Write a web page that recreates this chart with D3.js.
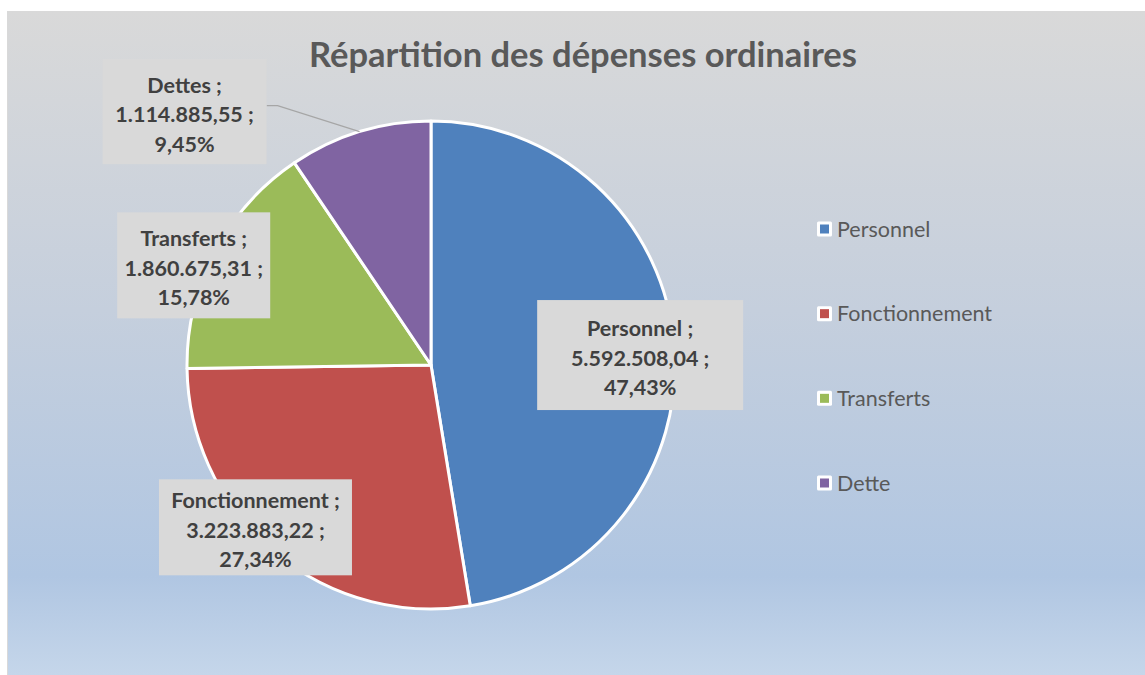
<!DOCTYPE html>
<html>
<head>
<meta charset="utf-8">
<script src="https://cdn.jsdelivr.net/npm/d3@7"></script>
<style>
  body { margin: 0; background: #fff; }
  svg text { font-family: Lato, "Open Sans", sans-serif; }
</style>
</head>
<body>
<svg id="chart" width="1145" height="675"></svg>
<script>
// data
const categories = ["Personnel", "Fonctionnement", "Transferts", "Dette"];
const labelNames = ["Personnel", "Fonctionnement", "Transferts", "Dettes"];
const values = [5592508.04, 3223883.22, 1860675.31, 1114885.55];
const valueLabels = ["5.592.508,04", "3.223.883,22", "1.860.675,31", "1.114.885,55"];
const percentLabels = ["47,43%", "27,34%", "15,78%", "9,45%"];
const colorsList = ["#4f81bd", "#c0504d", "#9bbb59", "#8064a2"];

// label box layout (radial factor, nudge, box size)
const labelLayout = [
  { r: 0.86, dx: 0, dy: 7, w: 206, h: 110 },
  { r: 0.98, dx: -22, dy: -21, w: 193, h: 96 },
  { r: 1.06, dx: -8, dy: 20, w: 153, h: 106 },
  { r: 1.0, dx: -175, dy: -20, w: 164, h: 105, leader: true }
];

const width = 1145, height = 675;
const cx = 431, cy = 365, radius = 244;

const svg = d3.select("#chart");

// background gradient
const defs = svg.append("defs");
const grad = defs.append("linearGradient")
    .attr("id", "bg").attr("x1", 0).attr("y1", 0).attr("x2", 0).attr("y2", 1);
grad.append("stop").attr("offset", "0%").attr("stop-color", "#d9d9d9");
grad.append("stop").attr("offset", "45%").attr("stop-color", "#c5cfdd");
grad.append("stop").attr("offset", "85%").attr("stop-color", "#b0c6e2");
grad.append("stop").attr("offset", "100%").attr("stop-color", "#c5d6ea");

svg.append("rect")
    .attr("x", 7.5).attr("y", 11.5)
    .attr("width", width - 7).attr("height", height - 11)
    .attr("fill", "url(#bg)")
    .attr("stroke", "#d9d9d9");

// title
svg.append("text")
    .attr("x", 583).attr("y", 67)
    .attr("text-anchor", "middle")
    .attr("font-size", 34.5)
    .attr("font-weight", "bold")
    .attr("fill", "#595959")
    .text("Répartition des dépenses ordinaires");

// pie
const pie = d3.pie().sort(null).value(d => d);
const arcs = pie(values);
const arc = d3.arc().innerRadius(0).outerRadius(radius);

const g = svg.append("g").attr("transform", `translate(${cx},${cy})`);

g.selectAll("path.slice")
  .data(arcs)
  .join("path")
    .attr("class", "slice")
    .attr("d", arc)
    .attr("fill", (d, i) => colorsList[i])
    .attr("stroke", "#fff")
    .attr("stroke-width", 3)
    .attr("stroke-linejoin", "round");

// data labels
arcs.forEach((d, i) => {
  const L = labelLayout[i];
  const a = (d.startAngle + d.endAngle) / 2;
  const px = Math.sin(a) * radius * L.r + L.dx;
  const py = -Math.cos(a) * radius * L.r + L.dy;

  if (L.leader) {
    const ex = Math.sin(a) * radius, ey = -Math.cos(a) * radius;
    const bx = px + L.w / 2;
    g.append("path")
      .attr("d", `M${bx},${py - 6}H${bx + 11}L${ex},${ey}`)
      .attr("fill", "none")
      .attr("stroke", "#a6a6a6")
      .attr("stroke-width", 1.2);
  }

  g.append("rect")
    .attr("x", px - L.w / 2).attr("y", py - L.h / 2)
    .attr("width", L.w).attr("height", L.h)
    .attr("fill", "#d9d9d9");

  const lines = [labelNames[i] + " ;", valueLabels[i] + " ;", percentLabels[i]];
  const t = g.append("text")
    .attr("text-anchor", "middle")
    .attr("font-size", 21.5)
    .attr("font-weight", "bold")
    .attr("fill", "#404040");
  lines.forEach((s, k) => {
    t.append("tspan")
      .attr("x", px)
      .attr("y", py + (k - 1) * 29.5 + 10.5)
      .text(s);
  });
});

// legend
const legendY = d3.scalePoint().domain(categories).range([229, 483]);
const lg = svg.append("g");
categories.forEach((c, i) => {
  const y = legendY(c);
  lg.append("rect")
    .attr("x", 817).attr("y", y - 7.5)
    .attr("width", 15).attr("height", 15)
    .attr("rx", 1.5)
    .attr("fill", "#fff");
  lg.append("rect")
    .attr("x", 820).attr("y", y - 4.5)
    .attr("width", 9).attr("height", 9)
    .attr("fill", colorsList[i]);
  lg.append("text")
    .attr("x", 837).attr("y", y + 7.5)
    .attr("font-size", 21.5)
    .attr("fill", "#595959")
    .text(c);
});
</script>
</body>
</html>
